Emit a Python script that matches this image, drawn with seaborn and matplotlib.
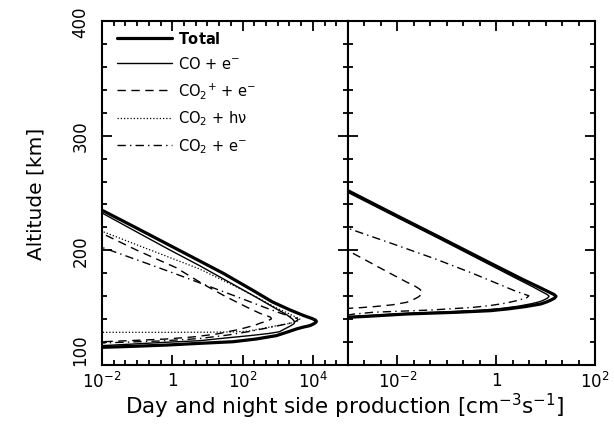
import numpy as np
import pandas as pd
import matplotlib
matplotlib.use("Agg")
import matplotlib.pyplot as plt
import matplotlib.ticker as mticker
import seaborn as sns

# ---- data: altitude [km] and log10 production ----
# day side (left panel)
day_total_alt = [240, 235, 220, 200, 180, 165, 155, 148, 143, 140.5, 139, 138, 137, 135.5, 134.3, 133, 131.4,
                 128.5, 125.6, 122.7, 120.3, 118.9, 117.4, 116.3, 115.4, 114.8]
day_total_log = [-2.35, -2.0, -1.05, 0.2, 1.45, 2.3, 2.85, 3.35, 3.75, 3.98, 4.08, 4.1, 4.08, 4.0, 3.91, 3.72, 3.53,
                 3.25, 2.96, 2.39, 1.73, 0.78, -0.16, -1.11, -2.0, -2.4]

day_co_alt = [236, 232.6, 215, 200, 186.6, 170, 158, 150, 144, 140, 138.2, 137.2, 136, 134.8, 133.7, 131.5, 129,
              127.5, 125.6, 123.5, 121.2, 119.8, 118.3, 116.9, 116.3]
day_co_log = [-2.25, -2.0, -0.95, -0.05, 0.78, 1.75, 2.45, 2.9, 3.25, 3.42, 3.47, 3.48, 3.46, 3.4, 3.34, 3.2, 3.05,
              2.75, 2.2, 1.5, 0.78, -0.2, -1.11, -2.0, -2.4]

day_co2p_alt = [218, 214.8, 200, 185, 170.5, 160, 150, 145, 142.6, 141.6, 140.2, 138.6, 136.5, 134.9, 131, 127,
                124.5, 122.7, 121.4, 120.3, 119.8]
day_co2p_log = [-2.25, -2.0, -1.0, 0.1, 0.88, 1.5, 2.15, 2.5, 2.72, 2.8, 2.82, 2.72, 2.5, 2.37, 1.9, 1.26,
                0.6, -0.16, -1.1, -2.0, -2.4]

day_hv_alt = [220, 216.6, 200, 183.7, 170, 160, 150, 145, 142, 140.8, 140.1, 138.8, 137.5, 135.7, 133.7, 131.5,
              129.5, 128.8, 128.6, 128.5, 128.5, 128.5]
day_hv_log = [-2.3, -2.0, -0.6, 0.78, 1.7, 2.35, 2.95, 3.3, 3.5, 3.6, 3.63, 3.6, 3.48, 3.25, 2.87, 2.5,
              2.15, 1.7, 1.0, 0.0, -1.0, -2.4]

day_co2e_alt = [206, 202.6, 190, 180, 170.5, 160, 150, 145, 142, 140.6, 139.5, 138.2, 136.5, 134.5, 132, 129,
                126, 123, 121, 119.2, 118.7]
day_co2e_log = [-2.3, -2.0, -0.85, 0.05, 0.88, 1.8, 2.65, 3.1, 3.4, 3.55, 3.58, 3.52, 3.35, 3.05, 2.65, 2.15,
                1.55, 0.75, -0.3, -2.0, -2.4]

# night side (right panel)
night_total_alt = [256, 252, 230, 210, 190, 175, 168, 164, 161.5, 159.9, 158.3, 156.5, 155, 153.2, 151, 149,
                   147.4, 146, 144.5, 142.5, 141.6, 141.2]
night_total_log = [-3.2, -3.0, -2.0, -1.08, -0.17, 0.52, 0.86, 1.05, 1.17, 1.21, 1.18, 1.1, 1.02, 0.9, 0.6, 0.25,
                   -0.11, -0.8, -1.81, -2.6, -3.0, -3.3]

night_co_alt = [254.5, 250.5, 229, 209, 189, 175, 168, 164, 161.5, 160, 158.4, 156.8, 155.2, 153.5, 151.3, 149.3,
                147.8, 146.3, 144.8, 142.9, 142.1, 141.7]
night_co_log = [-3.2, -3.0, -2.02, -1.1, -0.2, 0.43, 0.75, 0.92, 1.03, 1.07, 1.04, 0.97, 0.88, 0.72, 0.45, 0.1,
                -0.3, -1.0, -1.9, -2.65, -3.0, -3.3]

night_co2p_alt = [203, 199.7, 190, 180, 172, 169.2, 166.5, 164.5, 163.4, 161.8, 159.5, 157, 154.7, 152.5, 151,
                  150, 149.4, 149.1]
night_co2p_log = [-3.15, -3.0, -2.58, -2.15, -1.8, -1.66, -1.56, -1.51, -1.5, -1.51, -1.57, -1.68, -1.81, -2.1,
                  -2.45, -2.75, -3.0, -3.3]

night_co2e_alt = [222, 219.2, 205, 192, 180, 170, 165, 162, 160.4, 158.7, 156.5, 154, 152, 150.3, 148, 146,
                  144.3, 143.5, 143]
night_co2e_log = [-3.2, -3.0, -2.05, -1.2, -0.48, 0.08, 0.36, 0.55, 0.66, 0.62, 0.45, 0.2, -0.1, -0.46, -1.3,
                  -2.49, -2.9, -3.0, -3.3]

labels = [r"$\mathbf{Total}$", r"CO + e$^{-}$", r"CO$_2$$^{+}$ + e$^{-}$",
          r"CO$_2$ + h$\nu$", r"CO$_2$ + e$^{-}$"]

sns.set_style("ticks")
plt.rcParams["font.family"] = ["DejaVu Sans"]
plt.rcParams["mathtext.default"] = "regular"
plt.rcParams["axes.linewidth"] = 1.5
for k in ["text.color", "axes.labelcolor", "xtick.color", "ytick.color", "axes.edgecolor"]:
    plt.rcParams[k] = "black"

fig = plt.figure(figsize=(6.14, 4.31), dpi=100)
ax1 = fig.add_axes([0.1661, 0.1508, 0.4007, 0.7981])
ax2 = fig.add_axes([0.5668, 0.1508, 0.4023, 0.7981])

styles = [
    dict(color="black", linewidth=2.3, linestyle="-"),
    dict(color="black", linewidth=1.0, linestyle="-"),
    dict(color="black", linewidth=1.0, dashes=(6, 4)),
    dict(color="black", linewidth=0.9, dashes=(1, 1.6)),
    dict(color="black", linewidth=1.0, dashes=(6, 3, 1, 3)),
]

day = [(day_total_alt, day_total_log), (day_co_alt, day_co_log), (day_co2p_alt, day_co2p_log),
       (day_hv_alt, day_hv_log), (day_co2e_alt, day_co2e_log)]
night = {0: (night_total_alt, night_total_log), 1: (night_co_alt, night_co_log),
         2: (night_co2p_alt, night_co2p_log), 4: (night_co2e_alt, night_co2e_log)}

for i, (alt, lg) in enumerate(day):
    df = pd.DataFrame({"alt": alt, "prod": 10.0 ** np.array(lg)})
    sty = dict(styles[i])
    d = sty.pop("dashes", None)
    sns.lineplot(data=df, x="prod", y="alt", sort=False, estimator=None, ax=ax1, label=labels[i], **sty)
    if d is not None:
        ax1.lines[-1].set_dashes(d)

for i, (alt, lg) in night.items():
    df = pd.DataFrame({"alt": alt, "prod": 10.0 ** np.array(lg)})
    sty = dict(styles[i])
    d = sty.pop("dashes", None)
    sns.lineplot(data=df, x="prod", y="alt", sort=False, estimator=None, ax=ax2, legend=False, **sty)
    if d is not None:
        ax2.lines[-1].set_dashes(d)

for ax, lims, majors, mlabels in [
    (ax1, (1e-2, 1e5), [1e-2, 1, 1e2, 1e4], [r"$10^{-2}$", "1", r"$10^{2}$", r"$10^{4}$"]),
    (ax2, (1e-3, 1e2), [1e-2, 1, 1e2], [r"$10^{-2}$", "1", r"$10^{2}$"]),
]:
    ax.set_xscale("log")
    ax.set_xlim(*lims)
    ax.set_ylim(100, 400)
    lo, hi = np.log10(lims)
    ax.xaxis.set_major_locator(mticker.FixedLocator(majors))
    ax.xaxis.set_major_formatter(mticker.FixedFormatter(mlabels))
    ax.xaxis.set_minor_locator(mticker.FixedLocator(10.0 ** (np.arange(lo * 3, hi * 3 + 1) / 3.0)))
    ax.xaxis.set_minor_formatter(mticker.NullFormatter())
    ax.yaxis.set_major_locator(mticker.MultipleLocator(100))
    ax.yaxis.set_minor_locator(mticker.MultipleLocator(20))
    ax.tick_params(which="both", direction="in", top=True, right=True, left=True, bottom=True, width=1.3)
    ax.tick_params(which="major", length=7)
    ax.tick_params(which="minor", length=3.5)
    ax.tick_params(axis="x", labelsize=12, pad=4)
    ax.set_xlabel("")
    ax.set_ylabel("")

ax2.tick_params(axis="y", labelleft=False)
ax1.tick_params(axis="y", labelsize=12, pad=9)
fig.canvas.draw()
for t in ax1.get_yticklabels():
    t.set_rotation(90)
    t.set_va("bottom" if t.get_text() == "100" else "center")

ax1.set_ylabel("Altitude [km]", fontsize=14.5, labelpad=19)
fig.text(0.562, 0.058, r"Day and night side production [cm$^{-3}$s$^{-1}$]", ha="center", va="center",
         fontsize=15.5)

leg = ax1.legend(loc="upper left", bbox_to_anchor=(0.06, 0.975), frameon=False, fontsize=10.5,
                 handlelength=3.8, handletextpad=0.4, labelspacing=0.62, borderaxespad=0, borderpad=0)

fig.savefig("out.png", dpi=100)
